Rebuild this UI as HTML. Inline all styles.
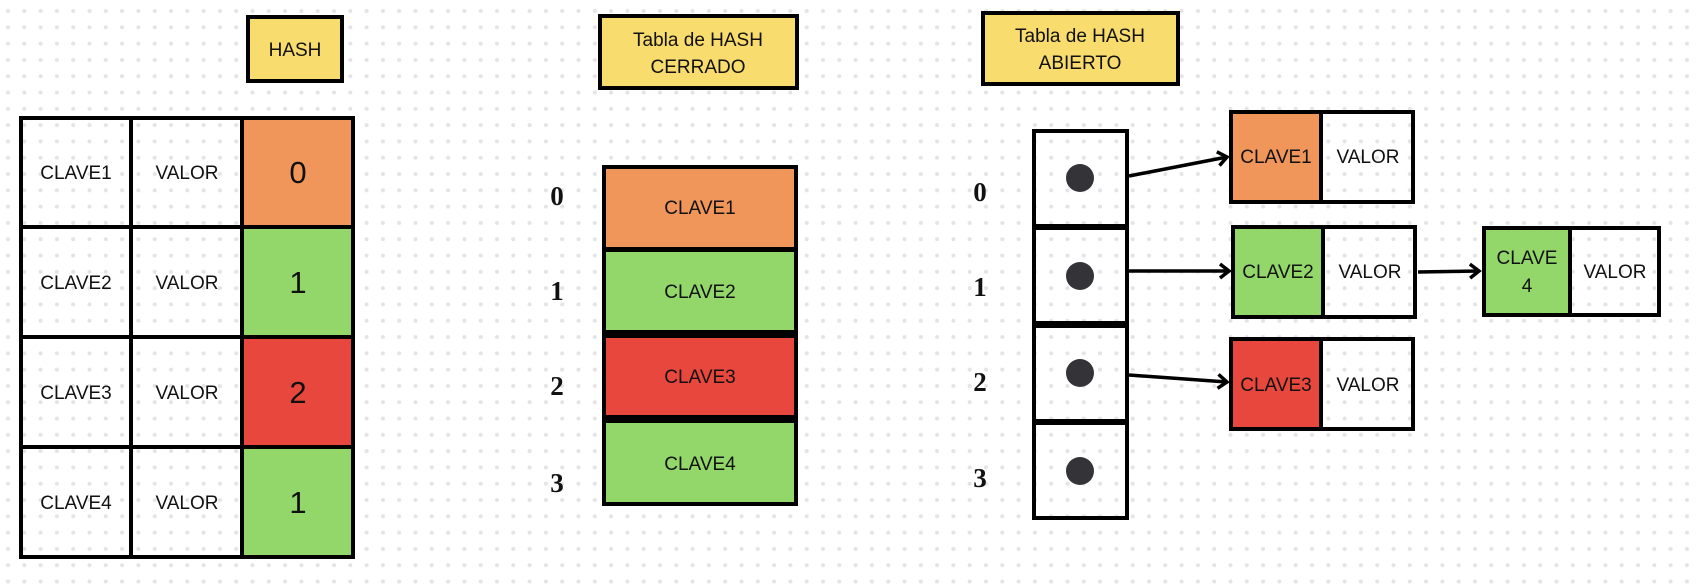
<!DOCTYPE html>
<html><head><meta charset="utf-8"><style>
html,body{margin:0;padding:0;width:1696px;height:588px;overflow:hidden;background:#fff;}
svg{display:block;}
text{font-family:"Liberation Sans",sans-serif;fill:#111;}
.idx{font-family:"Liberation Serif",serif;font-weight:bold;font-size:27px;}
</style></head><body>
<svg width="1696" height="588" viewBox="0 0 1696 588">
<defs>
<pattern id="dots" x="0" y="3" width="16.3" height="16.3" patternUnits="userSpaceOnUse">
<circle cx="8" cy="8" r="2" fill="#e3e3e8"/></pattern>
<marker id="ah" markerWidth="16" markerHeight="18" refX="12" refY="9" orient="auto" markerUnits="userSpaceOnUse">
<path d="M3,2 L12,9 L3,16" fill="none" stroke="#000" stroke-width="3.5"/></marker>
</defs>
<rect width="1696" height="588" fill="url(#dots)"/>

<g>
<rect x="248" y="17" width="94" height="64" fill="#f9dc6e" stroke="#000" stroke-width="4"/>
<text x="295" y="56" font-size="19" text-anchor="middle">HASH</text></g>
<g>
<rect x="600" y="16" width="197" height="72" fill="#f9dc6e" stroke="#000" stroke-width="4"/>
<text x="698" y="46" font-size="19" text-anchor="middle">Tabla de HASH</text>
<text x="698" y="73" font-size="19" text-anchor="middle">CERRADO</text></g>
<g>
<rect x="983" y="13" width="195" height="71" fill="#f9dc6e" stroke="#000" stroke-width="4"/>
<text x="1080" y="42" font-size="19" text-anchor="middle">Tabla de HASH</text>
<text x="1080" y="69" font-size="19" text-anchor="middle">ABIERTO</text></g>

<g>
<rect x="243" y="119" width="109" height="109" fill="#f0965a"/>
<rect x="243" y="228" width="109" height="109" fill="#93d66a"/>
<rect x="243" y="337" width="109" height="110" fill="#e8473d"/>
<rect x="243" y="447" width="109" height="109" fill="#93d66a"/>
<rect x="21" y="118" width="332" height="439" fill="none" stroke="#000" stroke-width="4"/>
<line x1="131" y1="118" x2="131" y2="557" stroke="#000" stroke-width="4"/>
<line x1="242" y1="118" x2="242" y2="557" stroke="#000" stroke-width="4"/>
<line x1="21" y1="227" x2="353" y2="227" stroke="#000" stroke-width="4"/>
<line x1="21" y1="337" x2="353" y2="337" stroke="#000" stroke-width="4"/>
<line x1="21" y1="447" x2="353" y2="447" stroke="#000" stroke-width="4"/>
<g font-size="19" text-anchor="middle">
<text x="76" y="179">CLAVE1</text><text x="187" y="179">VALOR</text>
<text x="76" y="289">CLAVE2</text><text x="187" y="289">VALOR</text>
<text x="76" y="399">CLAVE3</text><text x="187" y="399">VALOR</text>
<text x="76" y="509">CLAVE4</text><text x="187" y="509">VALOR</text>
</g>
<g font-size="31" text-anchor="middle">
<text x="298" y="183">0</text><text x="298" y="293">1</text>
<text x="298" y="403">2</text><text x="298" y="513">1</text>
</g></g>

<g>
<rect x="604" y="167" width="192" height="82" fill="#f0965a" stroke="#000" stroke-width="4"/>
<rect x="604" y="250" width="192" height="82" fill="#93d66a" stroke="#000" stroke-width="4"/>
<rect x="604" y="336" width="192" height="81" fill="#e8473d" stroke="#000" stroke-width="4"/>
<rect x="604" y="421" width="192" height="83" fill="#93d66a" stroke="#000" stroke-width="4"/>
<g font-size="19" text-anchor="middle">
<text x="700" y="214">CLAVE1</text><text x="700" y="298">CLAVE2</text>
<text x="700" y="383">CLAVE3</text><text x="700" y="470">CLAVE4</text></g>
<g text-anchor="middle">
<text x="557" y="205" class="idx">0</text><text x="557" y="300" class="idx">1</text>
<text x="557" y="395" class="idx">2</text><text x="557" y="492" class="idx">3</text></g>
</g>

<g>
<g fill="none" stroke="#000" stroke-width="4">
<rect x="1034" y="131" width="93" height="95"/>
<rect x="1034" y="228" width="93" height="95"/>
<rect x="1034" y="326" width="93" height="95"/>
<rect x="1034" y="423" width="93" height="95"/></g>
<g fill="#333338">
<circle cx="1080" cy="178" r="14"/><circle cx="1080" cy="276" r="14"/>
<circle cx="1080" cy="373" r="14"/><circle cx="1080" cy="471" r="14"/></g>
<g text-anchor="middle">
<text x="980" y="201" class="idx">0</text><text x="980" y="296" class="idx">1</text>
<text x="980" y="391" class="idx">2</text><text x="980" y="487" class="idx">3</text></g>

<g stroke="#000" stroke-width="3.5" marker-end="url(#ah)">
<line x1="1129" y1="176" x2="1227" y2="157"/>
<line x1="1129" y1="271" x2="1229" y2="271"/>
<line x1="1129" y1="375" x2="1227" y2="382"/>
<line x1="1418" y1="272" x2="1479" y2="271"/>
</g>

<g>
<rect x="1231" y="112" width="90" height="89" fill="#f0965a"/>
<rect x="1231" y="112" width="182" height="90" fill="none" stroke="#000" stroke-width="4"/>
<line x1="1321" y1="112" x2="1321" y2="202" stroke="#000" stroke-width="4"/>
<text x="1276" y="163" font-size="19" text-anchor="middle">CLAVE1</text>
<text x="1368" y="163" font-size="19" text-anchor="middle">VALOR</text></g>
<g>
<rect x="1233" y="227" width="90" height="89" fill="#93d66a"/>
<rect x="1233" y="227" width="182" height="90" fill="none" stroke="#000" stroke-width="4"/>
<line x1="1323" y1="227" x2="1323" y2="317" stroke="#000" stroke-width="4"/>
<text x="1278" y="278" font-size="19" text-anchor="middle">CLAVE2</text>
<text x="1370" y="278" font-size="19" text-anchor="middle">VALOR</text></g>
<g>
<rect x="1484" y="228" width="86" height="86" fill="#93d66a"/>
<rect x="1484" y="228" width="175" height="87" fill="none" stroke="#000" stroke-width="4"/>
<line x1="1570" y1="228" x2="1570" y2="315" stroke="#000" stroke-width="4"/>
<text x="1527" y="264" font-size="19" text-anchor="middle">CLAVE</text>
<text x="1527" y="292" font-size="19" text-anchor="middle">4</text>
<text x="1615" y="278" font-size="19" text-anchor="middle">VALOR</text></g>
<g>
<rect x="1231" y="339" width="90" height="89" fill="#e8473d"/>
<rect x="1231" y="339" width="182" height="90" fill="none" stroke="#000" stroke-width="4"/>
<line x1="1321" y1="339" x2="1321" y2="429" stroke="#000" stroke-width="4"/>
<text x="1276" y="391" font-size="19" text-anchor="middle">CLAVE3</text>
<text x="1368" y="391" font-size="19" text-anchor="middle">VALOR</text></g>
</g>
</svg>
</body></html>
